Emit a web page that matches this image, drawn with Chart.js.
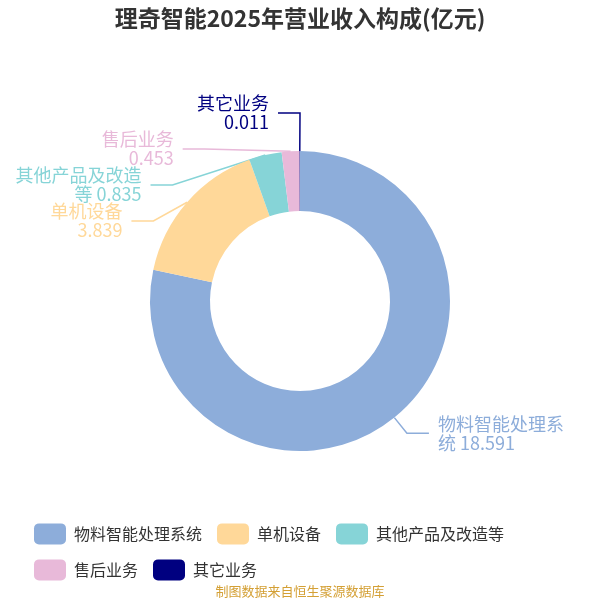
<!DOCTYPE html>
<html lang="zh-CN">
<head>
    <meta charset="UTF-8">
    <title>理奇智能2025年营业收入构成</title>
    <script src="https://cdn.jsdelivr.net/npm/chart.js"></script>
    <style>
        html, body { margin: 0; padding: 0; background: #fff; }
        .chart-box { width: 600px; height: 600px; }
    </style>
</head>
<body>
    <div class="chart-box"><canvas id="revenueChart"></canvas></div>

    <script>
        const categories = ['物料智能处理系统', '单机设备', '其他产品及改造等', '售后业务', '其它业务'];
        const revenue = [18.591, 3.839, 0.835, 0.453, 0.011];
        const sliceColors = ['#8DADDA', '#FFD899', '#86D4D7', '#E8B9D9', '#000080'];

        const FONT = '"Noto Sans CJK SC", "Noto Sans", sans-serif';
        const LABEL = { size: 18, lineHeight: 19, maxWidth: 128, len: 20, len2: 22, gap: 9, spacing: 36 };

        // wrap "name value" like the original: CJK chars break anywhere, numbers stay whole
        function wrapLabel(ctx, name, value) {
            const text = name + ' ' + value;
            const tokens = text.match(/[\u4e00-\u9fff]|[^\s\u4e00-\u9fff]+|\s+/g);
            const lines = [];
            let cur = '';
            tokens.forEach(t => {
                const next = cur + t;
                if (cur.trim() && ctx.measureText(next.trim()).width > LABEL.maxWidth) {
                    lines.push(cur.trim());
                    cur = t.trim() ? t : '';
                } else {
                    cur = next;
                }
            });
            if (cur.trim()) lines.push(cur.trim());
            if (lines.length === 1) return [name, String(value)];
            return lines;
        }

        function layoutLabels(chart) {
            const meta = chart.getDatasetMeta(0);
            const ctx = chart.ctx;
            ctx.font = `${LABEL.size}px ${FONT}`;
            const sides = { left: [], right: [] };

            meta.data.forEach((arc, i) => {
                const p = arc.getProps(['x', 'y', 'startAngle', 'endAngle', 'outerRadius'], true);
                const mid = (p.startAngle + p.endAngle) / 2;
                const rA = p.outerRadius + LABEL.len;
                const item = {
                    i: i,
                    cx: p.x,
                    cy: p.y,
                    rA: rA,
                    sx: p.x + Math.cos(mid) * p.outerRadius,
                    sy: p.y + Math.sin(mid) * p.outerRadius,
                    ly: p.y + Math.sin(mid) * rA,
                    dir: Math.cos(mid) >= 0 ? 1 : -1,
                    lines: wrapLabel(ctx, categories[i], revenue[i])
                };
                sides[item.dir > 0 ? 'right' : 'left'].push(item);
            });

            Object.values(sides).forEach(list => {
                if (!list.length) return;
                list.sort((a, b) => a.ly - b.ly);
                // small slices crowd together: lift the top one, push the rest down
                const crowded = list.some((it, k) => k > 0 && it.ly - list[k - 1].ly < LABEL.spacing);
                if (crowded) list[0].ly -= LABEL.spacing * 0.5;
                for (let k = 1; k < list.length; k++) {
                    list[k].ly = Math.max(list[k].ly, list[k - 1].ly + LABEL.spacing);
                }
                const rB = Math.max(...list.map(it => Math.abs(it.ly - it.cy)), ...list.map(it => it.rA));
                list.forEach(it => {
                    const dy = it.ly - it.cy;
                    // crowded labels sit on a slightly tighter ellipse, closer to the ring
                    const rx = crowded ? it.rA - 8 : it.rA;
                    const dx = rx * Math.sqrt(Math.max(0, 1 - dy * dy / (rB * rB)));
                    it.ex = it.cx + it.dir * dx;
                    it.tx = it.ex + it.dir * LABEL.len2;
                });
            });

            return [...sides.left, ...sides.right];
        }

        const outsideLabels = {
            id: 'outsideLabels',
            beforeDatasetsDraw(chart) {
                const ctx = chart.ctx;
                chart.$labelItems = layoutLabels(chart);
                ctx.save();
                ctx.lineWidth = 1.5;
                chart.$labelItems.forEach(it => {
                    ctx.strokeStyle = sliceColors[it.i];
                    ctx.beginPath();
                    ctx.moveTo(it.sx, it.sy);
                    ctx.lineTo(it.ex, it.ly);
                    ctx.lineTo(it.tx, it.ly);
                    ctx.stroke();
                });
                ctx.restore();
            },
            afterDatasetsDraw(chart) {
                const ctx = chart.ctx;
                ctx.save();
                ctx.font = `${LABEL.size}px ${FONT}`;
                ctx.textBaseline = 'middle';
                (chart.$labelItems || []).forEach(it => {
                    ctx.fillStyle = sliceColors[it.i];
                    ctx.textAlign = it.dir > 0 ? 'left' : 'right';
                    const x = it.tx + it.dir * LABEL.gap;
                    const y0 = it.ly - (it.lines.length - 1) * LABEL.lineHeight / 2;
                    it.lines.forEach((line, k) => ctx.fillText(line, x, y0 + k * LABEL.lineHeight));
                });
                ctx.restore();
            }
        };

        new Chart(document.getElementById('revenueChart'), {
            type: 'doughnut',
            data: {
                labels: categories,
                datasets: [{
                    data: revenue,
                    backgroundColor: sliceColors,
                    borderWidth: 0,
                    radius: 150,
                    cutout: '60%'
                }]
            },
            options: {
                responsive: true,
                maintainAspectRatio: false,
                animation: false,
                layout: { padding: { left: 19, right: 19 } },
                plugins: {
                    title: {
                        display: true,
                        text: '理奇智能2025年营业收入构成(亿元)',
                        color: '#333',
                        font: { family: FONT, size: 23, weight: 'bold' },
                        padding: { top: 4, bottom: 62 }
                    },
                    subtitle: {
                        display: true,
                        position: 'bottom',
                        text: '制图数据来自恒生聚源数据库',
                        color: '#D4A035',
                        font: { family: FONT, size: 13 },
                        padding: { top: -7, bottom: 1 }
                    },
                    legend: {
                        position: 'bottom',
                        align: 'start',
                        labels: {
                            boxWidth: 32,
                            boxHeight: 21,
                            useBorderRadius: true,
                            borderRadius: 5,
                            padding: 15,
                            color: '#333',
                            font: { family: FONT, size: 16 }
                        }
                    },
                    tooltip: { enabled: false }
                }
            },
            plugins: [outsideLabels]
        });
    </script>
</body>
</html>
